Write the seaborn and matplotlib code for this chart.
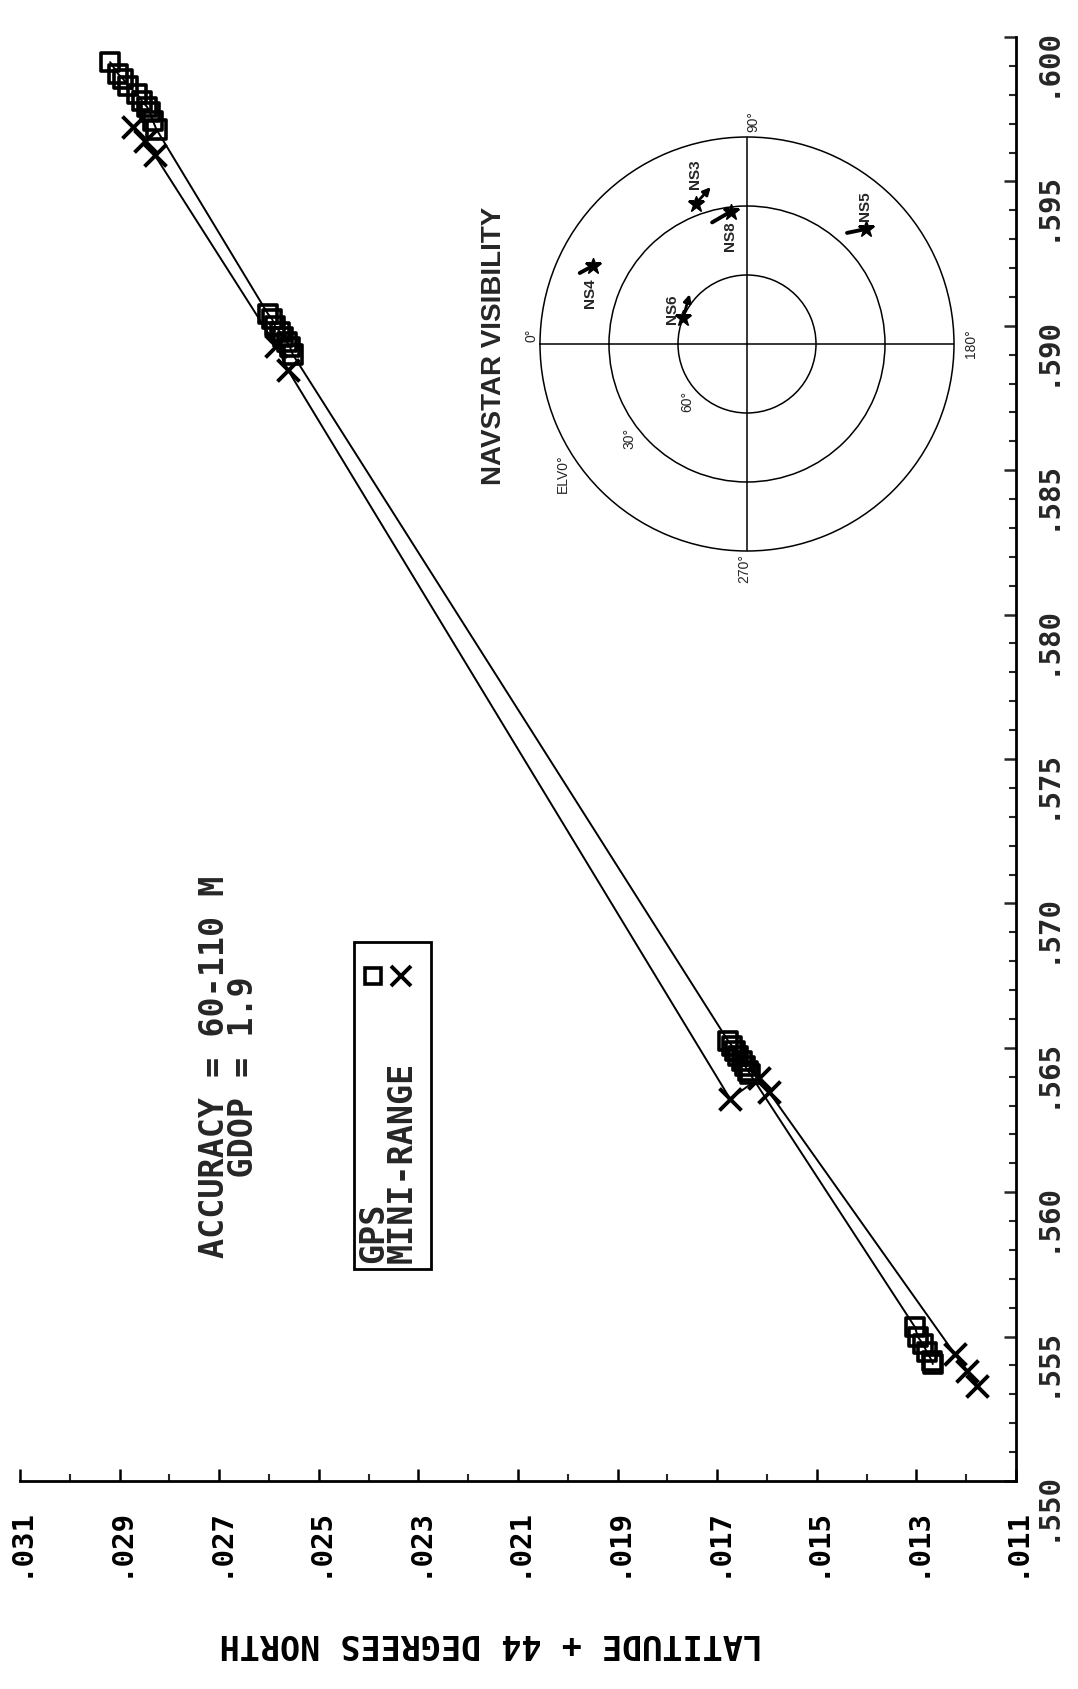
import numpy as np
import pandas as pd
import matplotlib
matplotlib.use("Agg")
import matplotlib.pyplot as plt
import seaborn as sns
from matplotlib import font_manager
from matplotlib.patches import Rectangle
from matplotlib.lines import Line2D

# ---------------- data ----------------
# GPS fixes (open squares): latitude (+44 deg N, fractional) and longitude (fractional)
gps_lat = [0.02919, 0.02903, 0.02893, 0.02883, 0.02865, 0.02855, 0.02845, 0.02839, 0.02833, 0.02826,
           0.02602, 0.02594, 0.02588, 0.02578, 0.02572, 0.02564, 0.02558, 0.02552,
           0.01678, 0.01670, 0.01664, 0.01658, 0.01650, 0.01644, 0.01638, 0.01634,
           0.01303, 0.01297, 0.01287, 0.01279, 0.01269, 0.01267]
gps_lon = [0.59913, 0.59872, 0.59855, 0.59830, 0.59803, 0.59778, 0.59758, 0.59740, 0.59709, 0.59680,
           0.59041, 0.59024, 0.58999, 0.58979, 0.58961, 0.58944, 0.58927, 0.58900,
           0.56524, 0.56506, 0.56489, 0.56472, 0.56454, 0.56437, 0.56420, 0.56409,
           0.55533, 0.55499, 0.55474, 0.55447, 0.55416, 0.55405]
# MINI-RANGE fixes (X)
mr_lat = [0.02874, 0.02850, 0.02829,
          0.02585, 0.02562,
          0.01674, 0.01616, 0.01596,
          0.01223, 0.01198, 0.01178]
mr_lon = [0.59690, 0.59640, 0.59590,
          0.58930, 0.58847,
          0.56323, 0.56395, 0.56347,
          0.55440, 0.55381, 0.55329]

lat_ticks = [0.031, 0.029, 0.027, 0.025, 0.023, 0.021, 0.019, 0.017, 0.015, 0.013, 0.011]
lat_labels = [".031", ".029", ".027", ".025", ".023", ".021", ".019", ".017", ".015", ".013", ".011"]
lon_ticks = [0.550, 0.555, 0.560, 0.565, 0.570, 0.575, 0.580, 0.585, 0.590, 0.595, 0.600]
lon_labels = [".550", ".555", ".560", ".565", ".570", ".575", ".580", ".585", ".590", ".595", ".600"]

# NAVSTAR sky plot (azimuth deg, elevation deg)
sat_names = ["NS3", "NS8", "NS5", "NS4", "NS6"]
sat_az = [70, 83, 136, 27, 22]
sat_el = [25, 32, 18, 15, 60]
trail_az = [77, 74, 132, 23, 41]
trail_el = [20, 35, 25, 11, 57]
elev_rings = [0, 30, 60]
az_labels = ["0°", "90°", "180°", "270°"]

# ---------------- style ----------------
sns.set_style("white")
plt.rcParams['font.family'] = ['DejaVu Sans Mono', 'DejaVu Sans']
names = {f.name for f in font_manager.fontManager.ttflist}
narrow = 'Liberation Sans Narrow' if 'Liberation Sans Narrow' in names else 'Liberation Sans'

W, H = 1078, 1690
fig = plt.figure(figsize=(W / 100, H / 100), dpi=100)
fig.patch.set_facecolor('white')

def fx(x):
    return x / W

def fy(y):
    return 1 - y / H

ax = fig.add_axes([20 / W, 1 - 1482 / H, 996 / W, 1444 / H])
ax.set_facecolor('white')

gps = pd.DataFrame({"lat": gps_lat, "lon": gps_lon})
mr = pd.DataFrame({"lat": mr_lat, "lon": mr_lon})

sns.lineplot(data=gps, x="lat", y="lon", sort=False, estimator=None, color="black", lw=1.4, ax=ax)
sns.lineplot(data=mr, x="lat", y="lon", sort=False, estimator=None, color="black", lw=1.4, ax=ax)
sns.scatterplot(data=gps, x="lat", y="lon", marker="s", s=175, facecolor="none",
                edgecolor="black", linewidth=2.6, ax=ax, zorder=3)
sns.scatterplot(data=mr, x="lat", y="lon", marker="x", s=250, color="black",
                linewidth=2.8, ax=ax, zorder=3)

ax.set_xlim(0.031, 0.011)
ax.set_ylim(0.550, 0.600)
for s in ["left", "top"]:
    ax.spines[s].set_visible(False)
for s in ["right", "bottom"]:
    ax.spines[s].set_visible(True)
    ax.spines[s].set_linewidth(2.0)
    ax.spines[s].set_color("black")

ax.yaxis.tick_right()
ax.set_xticks(lat_ticks)
ax.set_xticklabels(lat_labels)
ax.set_xticks(np.arange(0.011, 0.0311, 0.001), minor=True)
ax.set_yticks(lon_ticks)
ax.set_yticklabels(lon_labels)
ax.set_yticks(np.arange(0.550, 0.6001, 0.001), minor=True)

tick_font = dict(family='DejaVu Sans Mono', weight='bold', size=21)
for lab in ax.get_xticklabels() + ax.get_yticklabels():
    lab.set_fontproperties(font_manager.FontProperties(**tick_font))

ax.tick_params(axis="x", which="major", direction="in", length=9, width=1.8, pad=18,
               labelrotation=90, bottom=True, top=False, colors="black")
ax.tick_params(axis="x", which="minor", direction="in", length=5, width=1.5, bottom=True, top=False)
ax.tick_params(axis="y", which="major", direction="in", length=9, width=1.8, pad=12,
               labelrotation=90, right=True, left=False, labelright=True, labelleft=False)
ax.tick_params(axis="y", which="minor", direction="in", length=5, width=1.5, right=True, left=False)

txt_font = dict(family='DejaVu Sans Mono', weight='bold', size=24)

ax.set_ylabel("")
ax.set_xlabel("LATITUDE + 44 DEGREES NORTH", rotation=180, color="black", **txt_font)
ax.xaxis.set_label_coords((491 - 20) / 996, (1482 - 1644) / 1444)
ax.xaxis.label.set_va("center")
ax.xaxis.label.set_ha("center")

# annotation text
fig.text(fx(229), fy(1258), "ACCURACY = 60-110 M\n    GDOP = 1.9", rotation=90,
         ha="center", va="bottom", linespacing=0.85, multialignment="left", **txt_font)

# manual legend box
fig.patches.append(Rectangle((fx(354), fy(1270)), 77 / W, 327 / H, transform=fig.transFigure,
                             fill=False, lw=2.0, edgecolor="black"))
fig.text(fx(388), fy(1263), "GPS\nMINI-RANGE", rotation=90, ha="center", va="bottom",
         linespacing=0.85, multialignment="left", **txt_font)
fig.add_artist(Line2D([fx(373)], [fy(977)], marker="s", ms=12, mfc="none", mec="black",
                      mew=2.6, transform=fig.transFigure))
fig.add_artist(Line2D([fx(401)], [fy(977)], marker="x", ms=14, color="black",
                      mew=2.8, transform=fig.transFigure))

# ---------------- NAVSTAR visibility inset ----------------
cx, cy, R = 747, 345, 207
ax2 = fig.add_axes([fx(cx - R), fy(cy + R), 2 * R / W, 2 * R / H], projection="polar")
ax2.set_facecolor("none")
ax2.set_theta_zero_location("W")
ax2.set_theta_direction(-1)
ax2.set_rlim(0, 90)
ax2.set_rticks([90 - e for e in elev_rings[1:]])
ax2.set_yticklabels([])
ax2.set_xticks(np.deg2rad([0, 90, 180, 270]))
ax2.set_xticklabels([])
ax2.grid(True, color="black", lw=1.1, ls="-")
ax2.spines["polar"].set_linewidth(1.1)
ax2.spines["polar"].set_color("black")

heads = [True, False, False, False, True]
for name, az, el, taz, tel, hd in zip(sat_names, sat_az, sat_el, trail_az, trail_el, heads):
    th, r = np.deg2rad(az), 90 - el
    tth, tr = np.deg2rad(taz), 90 - tel
    if hd:
        ax2.annotate("", xy=(tth, tr), xytext=(th, r),
                     arrowprops=dict(arrowstyle="-|>", color="black", lw=2.0, mutation_scale=11,
                                     shrinkA=0, shrinkB=0))
    else:
        ax2.plot([th, tth], [r, tr], color="black", lw=2.8, solid_capstyle="round")
    ax2.plot([th], [r], marker="*", ms=12, color="black")

sans_b = dict(family=narrow, weight="bold")
fig.text(fx(494), fy(346), "NAVSTAR VISIBILITY", rotation=90, ha="center", va="center",
         fontsize=20, **sans_b)
label_pos = [(532, 335), (753, 121), (971, 344), (744, 569)]
for t, (x, y) in zip(az_labels, label_pos):
    fig.text(fx(x), fy(y), t, rotation=90, ha="center", va="center", fontsize=10, family=narrow)
fig.text(fx(563), fy(474), "ELV0°", rotation=90, ha="center", va="center", fontsize=10, family=narrow)
fig.text(fx(629), fy(438), "30°", rotation=90, ha="center", va="center", fontsize=10, family=narrow)
fig.text(fx(687), fy(401), "60°", rotation=90, ha="center", va="center", fontsize=10, family=narrow)
ns_pos = [(695, 174), (730, 236), (865, 206), (590, 293), (672, 309)]
for name, (x, y) in zip(sat_names, ns_pos):
    fig.text(fx(x), fy(y), name, rotation=90, ha="center", va="center", fontsize=11, **sans_b)

fig.savefig("out.png", dpi=100, facecolor="white")
